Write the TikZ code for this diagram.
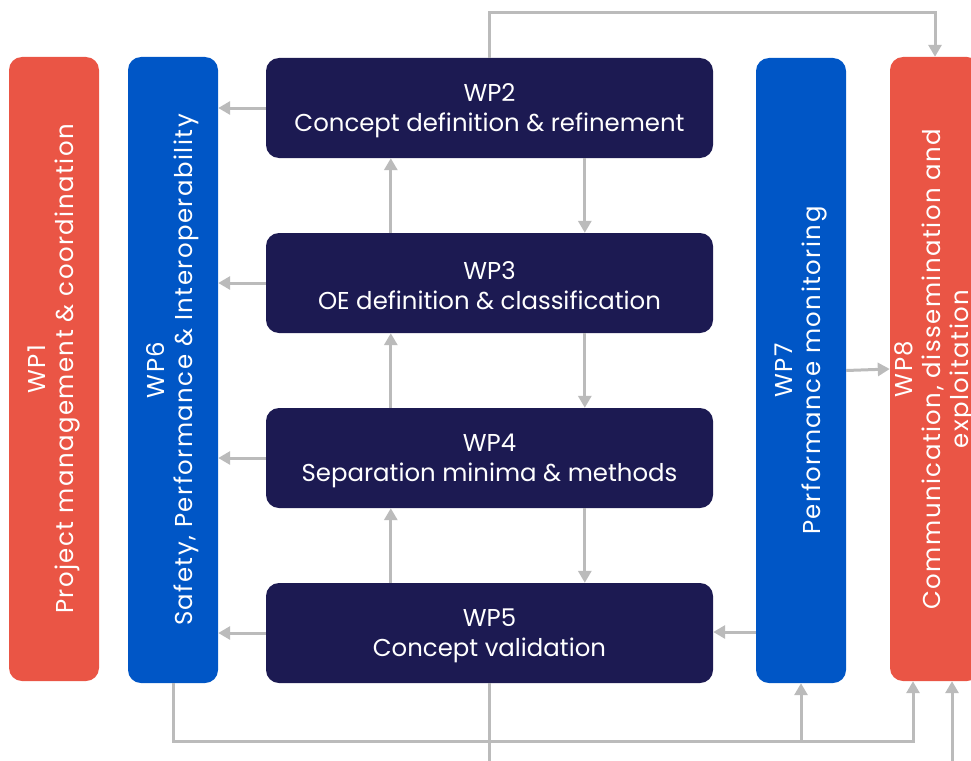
\documentclass[tikz,border=0pt]{standalone}
\usepackage{fontspec}
\setmainfont{Poppins}
\newfontfamily\vertfont[LetterSpace=6]{Poppins}
\usetikzlibrary{arrows.meta}
\definecolor{wpred}{HTML}{EA5545}
\definecolor{wpblue}{HTML}{0056C6}
\definecolor{wpnavy}{HTML}{1C1A52}
\definecolor{wpgray}{HTML}{BBBBBB}
\tikzset{
  box/.style={rectangle, rounded corners=13pt, inner sep=0pt},
  hbox/.style={box, fill=wpnavy, minimum width=447pt, minimum height=100pt},
  vbox/.style={box, minimum width=90pt, minimum height=624pt},
  lbl/.style={text=white, font=\fontsize{24.4}{30}\selectfont, align=center},
  vlbl/.style={text=white, font=\vertfont\fontsize{24.4}{28}\selectfont, align=center, rotate=90},
  conn/.style={draw=wpgray, line width=3pt},
  arr/.style={conn, -{Triangle[length=12pt,width=13pt]}},
}
\begin{document}
\begin{tikzpicture}[x=1pt,y=-1pt]
\useasboundingbox (0,0) rectangle (971,760);
\clip (0,0) rectangle (971,760);
% boxes
\node[vbox, fill=wpred] (wp1) at (54,369) {};
\node[vbox, fill=wpblue, minimum height=626pt] (wp6) at (173,370) {};
\node[hbox] (wp2) at (489.5,108) {};
\node[hbox] (wp3) at (489.5,283) {};
\node[hbox] (wp4) at (489.5,458) {};
\node[hbox] (wp5) at (489.5,633) {};
\node[vbox, fill=wpblue, minimum height=625pt] (wp7) at (801,370.5) {};
\node[vbox, fill=wpred] (wp8) at (935,369) {};
% labels
\node[lbl] (t2) at ([yshift=-3pt]wp2.center) {WP2\\Concept definition \& refinement};
\node[lbl] (t3) at ([yshift=-3pt]wp3.center) {WP3\\OE definition \& classification};
\node[lbl] (t4) at ([yshift=-3pt]wp4.center) {WP4\\Separation minima \& methods};
\node[lbl] (t5) at ([yshift=-3pt]wp5.center) {WP5\\Concept validation};
\node[vlbl] (t1) at (wp1) {WP1\\Project management \& coordination};
\node[vlbl] (t6) at (wp6) {WP6\\Safety, Performance \& Interoperability};
\node[vlbl] (t7) at (wp7) {WP7\\Performance monitoring};
\node[vlbl] (t8) at (wp8) {WP8\\Communication, dissemination and\\exploitation};
% left arrows to WP6
\foreach \w in {wp2,wp3,wp4,wp5}
  \draw[arr] (\w.west) -- (\w.west -| wp6.east);
% up arrows
\draw[arr] ([xshift=125pt]wp3.north west) -- ([xshift=125pt]wp2.south west);
\draw[arr] ([xshift=125pt]wp4.north west) -- ([xshift=125pt]wp3.south west);
\draw[arr] ([xshift=125pt]wp5.north west) -- ([xshift=125pt]wp4.south west);
% down arrows
\draw[arr] ([xshift=319pt]wp2.south west) -- ([xshift=319pt]wp3.north west);
\draw[arr] ([xshift=319pt]wp3.south west) -- ([xshift=319pt]wp4.north west);
\draw[arr] ([xshift=319pt]wp4.south west) -- ([xshift=319pt]wp5.north west);
% WP7 to WP5 and WP8
\coordinate (y632) at (0,632);
\draw[arr] (wp7.west |- y632) -- (wp5.east |- y632);
\draw[arr] (wp7.east) -- (wp8.west);
% top loop
\coordinate (topR) at (935,13);
\draw[arr] (wp2.north) |- (topR) -- (wp8.north);
% bottom loop
\coordinate (botR) at (913,741);
\coordinate (branch) at (801,741);
\draw[arr] (wp6.south) |- (botR) -- (wp8.south -| botR);
\draw[arr] (branch) -- (wp7.south);
\coordinate (endA) at (489.5,775);
\draw[conn] (wp5.south) -- (endA);
\coordinate (endB) at (952,775);
\draw[arr] (endB) -- (wp8.south -| endB);
\end{tikzpicture}
\end{document}
